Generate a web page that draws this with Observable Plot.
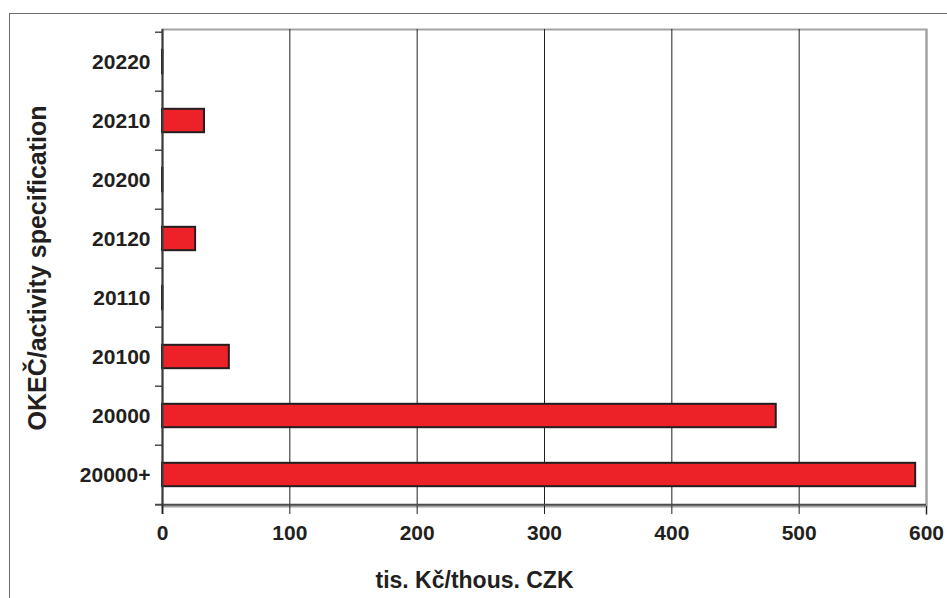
<!DOCTYPE html>
<html><head><meta charset="utf-8">
<script src="https://cdn.jsdelivr.net/npm/d3@7"></script>
<script src="https://cdn.jsdelivr.net/npm/@observablehq/plot@0.6"></script>
<style>
body{margin:0;background:#fff;}
#wrap{position:relative;width:947px;height:598px;overflow:hidden;background:#fff;}
#border{position:absolute;left:9px;top:13px;width:2000px;height:2000px;border-top:1.5px solid #6d6d6d;border-left:1.5px solid #6d6d6d;}
#chart{position:absolute;left:0;top:0;}
</style></head><body>
<div id="wrap"><div id="border"></div><div id="chart"></div></div>
<script>
const categories = ["20220", "20210", "20200", "20120", "20110", "20100", "20000", "20000+"];
const values = [0.3, 33, 0.3, 26, 0.3, 52.5, 482, 591.5];
const xTicks = [0, 100, 200, 300, 400, 500, 600];
const xLabel = "tis. Kč/thous. CZK";
const yLabel = "OKEČ/activity specification";

const data = categories.map((c, i) => ({cat: c, value: values[i]}));
const W = 947, H = 598, mt = 29, mb = 92, ml = 162, mr = 21;
const band = (H - mt - mb) / categories.length;
const barH = 24;
const ink = "#231f20";

const plot = Plot.plot({
  width: W, height: H,
  marginTop: mt, marginBottom: mb, marginLeft: ml, marginRight: mr,
  style: {fontFamily: "'Liberation Sans', Arial, sans-serif", background: "transparent", color: ink},
  x: {domain: [0, 600], ticks: xTicks, label: null},
  y: {domain: categories, padding: 0, label: null},
  marks: [
    Plot.frame({stroke: "#a3a3a3", strokeWidth: 2}),
    Plot.gridX(xTicks.filter(t => t > 0 && t < 600), {stroke: ink, strokeOpacity: 1, strokeWidth: 1}),
    Plot.ruleX([600], {stroke: "#a3a3a3", strokeWidth: 2, insetBottom: -9}),
    Plot.barX(data, {y: "cat", x: "value", fill: "#ed2229", stroke: ink, strokeWidth: 2,
      insetTop: (band - barH) / 2, insetBottom: (band - barH) / 2}),
    Plot.ruleY(categories, {y: d => d, x1: 0, x2: 0, dy: -band / 2, insetLeft: -7, stroke: ink, strokeWidth: 1.2}),
    Plot.ruleY([categories[categories.length - 1]], {y: d => d, dy: band / 2, insetLeft: -7, stroke: "#4a4a4a", strokeWidth: 2}),
    Plot.ruleX([0], {stroke: "#3a3a3a", strokeWidth: 2, insetBottom: -8}),
    Plot.axisX({ticks: xTicks, tickSize: 8, tickPadding: 11, fontSize: 21, fontWeight: "bold", stroke: ink, label: null}),
    Plot.axisY({tickSize: 0, tickPadding: 12, fontSize: 21, fontWeight: "bold", label: null}),
    Plot.text([xLabel], {text: d => d, frameAnchor: "bottom", textAnchor: "middle", dx: -70, dy: 81, fontSize: 23, fontWeight: "bold", fill: ink}),
    Plot.text([yLabel], {text: d => d, frameAnchor: "left", textAnchor: "middle", dx: -125, rotate: -90, fontSize: 25, fontWeight: "bold", fill: ink})
  ]
});
document.getElementById("chart").appendChild(plot);
</script>
</body></html>
